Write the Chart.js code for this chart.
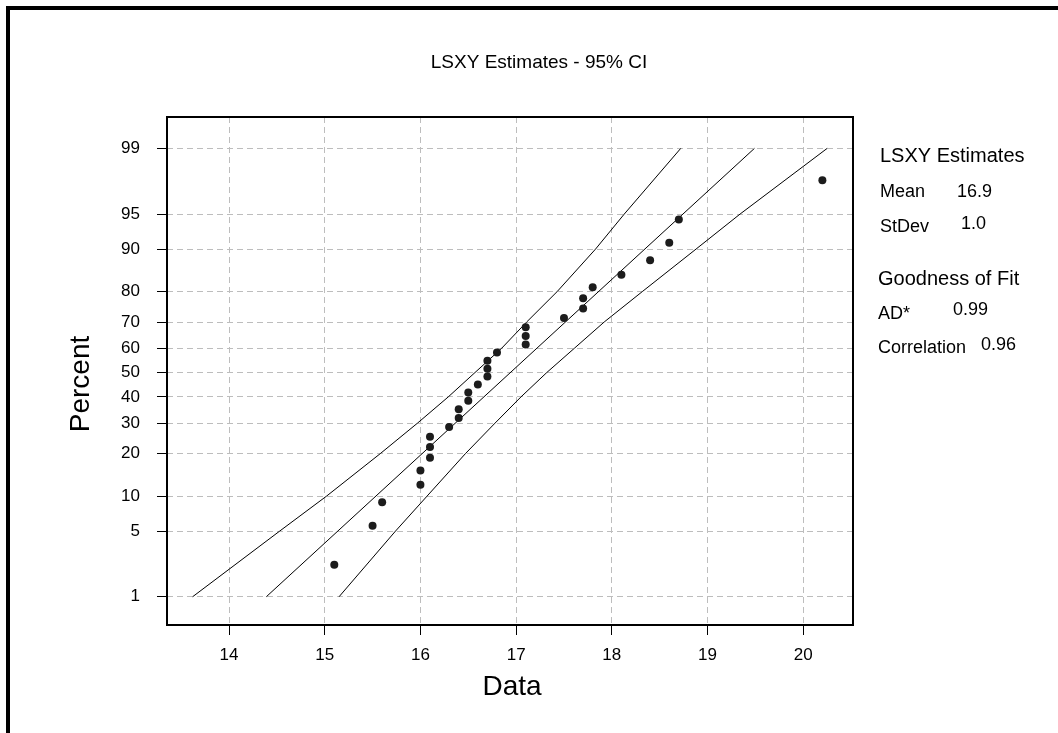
<!DOCTYPE html>
<html>
<head>
<meta charset="utf-8">
<script src="https://cdn.jsdelivr.net/npm/chart.js@4.4.1/dist/chart.umd.min.js"></script>
<style>
  html, body { margin: 0; padding: 0; background: #fff; }
  canvas { display: block; }
</style>
</head>
<body>
<canvas id="plot" width="1058" height="733"></canvas>
<script>
// Observed sample (sorted) and plotting positions in percent
const dataValues = [15.1, 15.5, 15.6, 16.0, 16.0, 16.1, 16.1, 16.1, 16.3, 16.4,
                    16.4, 16.5, 16.5, 16.6, 16.7, 16.7, 16.7, 16.8, 17.1, 17.1,
                    17.1, 17.5, 17.7, 17.7, 17.8, 18.1, 18.4, 18.6, 18.7, 20.2];
const percentRanks = [2.3, 5.6, 8.9, 12.2, 15.5, 18.8, 22.0, 25.3, 28.6, 31.9,
                      35.2, 38.5, 41.8, 45.1, 48.4, 51.6, 54.9, 58.2, 61.5, 64.8,
                      68.1, 71.4, 74.7, 78.0, 81.2, 84.5, 87.8, 91.1, 94.4, 97.7];

// Fitted LSXY line (end points)
const fitPercents = [1, 99];
const fitValues = [14.39, 19.49];

// 95% confidence band
const bandPercents = [1, 5, 10, 20, 30, 40, 50, 60, 70, 80, 90, 95, 99];
const bandLower = [13.62, 14.53, 15.02, 15.58, 15.97, 16.29, 16.57, 16.85, 17.11, 17.43, 17.83, 18.13, 18.72];
const bandUpper = [15.15, 15.74, 16.07, 16.47, 16.78, 17.05, 17.32, 17.61, 17.92, 18.32, 18.88, 19.34, 20.25];

// Axis ticks
const percentTicks = [1, 5, 10, 20, 30, 40, 50, 60, 70, 80, 90, 95, 99];
const dataTicks = [14, 15, 16, 17, 18, 19, 20];

// Side table
const estimateRows = [['Mean', '16.9'], ['StDev', '1.0']];
const fitRows = [['AD*', '0.99'], ['Correlation', '0.96']];

// Inverse standard normal CDF (Acklam's rational approximation)
function probit(p) {
  const a = [-3.969683028665376e+01, 2.209460984245205e+02, -2.759285104469687e+02, 1.383577518672690e+02, -3.066479806614716e+01, 2.506628277459239e+00];
  const b = [-5.447609879822406e+01, 1.615858368580409e+02, -1.556989798598866e+02, 6.680131188771972e+01, -1.328068155288572e+01];
  const c = [-7.784894002430293e-03, -3.223964580411365e-01, -2.400758277161838e+00, -2.549671010115832e+00, 4.374664141464968e+00, 2.938163982698783e+00];
  const d = [7.784695709041462e-03, 3.224671290700398e-01, 2.445134137142996e+00, 3.754408661907416e+00];
  const pl = 0.02425, ph = 1 - pl;
  let q, r;
  if (p < pl) {
    q = Math.sqrt(-2 * Math.log(p));
    return (((((c[0]*q+c[1])*q+c[2])*q+c[3])*q+c[4])*q+c[5]) / ((((d[0]*q+d[1])*q+d[2])*q+d[3])*q+1);
  }
  if (p <= ph) {
    q = p - 0.5; r = q * q;
    return (((((a[0]*r+a[1])*r+a[2])*r+a[3])*r+a[4])*r+a[5])*q / (((((b[0]*r+b[1])*r+b[2])*r+b[3])*r+b[4])*r+1);
  }
  q = Math.sqrt(-2 * Math.log(1 - p));
  return -(((((c[0]*q+c[1])*q+c[2])*q+c[3])*q+c[4])*q+c[5]) / ((((d[0]*q+d[1])*q+d[2])*q+d[3])*q+1);
}
function normCdf(z) {
  const t = 1 / (1 + 0.2316419 * Math.abs(z));
  const y = 0.3989423 * Math.exp(-z * z / 2) *
    t * (0.3193815 + t * (-0.3565638 + t * (1.781478 + t * (-1.821256 + t * 1.330274))));
  return z > 0 ? 1 - y : y;
}

// Normal-probability (percent) axis
class ProbitScale extends Chart.Scale {
  determineDataLimits() {
    this.min = this.options.min;
    this.max = this.options.max;
  }
  buildTicks() {
    return percentTicks.map(v => ({ value: v }));
  }
  configure() {
    super.configure();
    this._zLo = probit(this.min / 100);
    this._zHi = probit(this.max / 100);
  }
  getLabelForValue(v) { return String(v); }
  getPixelForValue(v) {
    return this.getPixelForDecimal((probit(v / 100) - this._zLo) / (this._zHi - this._zLo));
  }
  getValueForPixel(px) {
    const z = this._zLo + this.getDecimalForPixel(px) * (this._zHi - this._zLo);
    return normCdf(z) * 100;
  }
}
ProbitScale.id = 'probit';
ProbitScale.defaults = {};
Chart.register(ProbitScale);

const FONT = '"Liberation Sans", Arial, Helvetica, sans-serif';

const toPoints = (xs, ps) => xs.map((x, i) => ({ x: x, y: ps[i] }));

const decorations = {
  id: 'decorations',
  beforeDraw(chart) {
    const ctx = chart.ctx;
    ctx.save();
    ctx.fillStyle = '#fff';
    ctx.fillRect(0, 0, chart.width, chart.height);
    ctx.restore();
  },
  afterDraw(chart) {
    const ctx = chart.ctx;
    const area = chart.chartArea;
    ctx.save();
    // outer frame (top and left edges)
    ctx.fillStyle = '#000';
    ctx.fillRect(6, 6, chart.width - 6, 4);
    ctx.fillRect(6, 6, 4, chart.height - 6);

    // plot frame
    ctx.strokeStyle = '#000';
    ctx.lineWidth = 2;
    ctx.strokeRect(area.left, area.top, area.right - area.left, area.bottom - area.top);

    ctx.fillStyle = '#000';
    ctx.textBaseline = 'middle';

    // title
    ctx.textAlign = 'center';
    ctx.font = '19px ' + FONT;
    ctx.fillText('LSXY Estimates - 95% CI', 539, 63);

    // axis titles
    ctx.font = '28px ' + FONT;
    ctx.fillText('Data', 512, 687);
    ctx.save();
    ctx.translate(81, 384);
    ctx.rotate(-Math.PI / 2);
    ctx.fillText('Percent', 0, 0);
    ctx.restore();

    // side table
    ctx.textAlign = 'left';
    ctx.font = '20px ' + FONT;
    ctx.fillText('LSXY Estimates', 880, 156);
    ctx.font = '18px ' + FONT;
    ctx.fillText(estimateRows[0][0], 880, 192);
    ctx.fillText(estimateRows[0][1], 957, 192);
    ctx.fillText(estimateRows[1][0], 880, 227);
    ctx.fillText(estimateRows[1][1], 961, 224);

    ctx.font = '20px ' + FONT;
    ctx.fillText('Goodness of Fit', 878, 279);
    ctx.font = '18px ' + FONT;
    ctx.fillText(fitRows[0][0], 878, 314);
    ctx.fillText(fitRows[0][1], 953, 310);
    ctx.fillText(fitRows[1][0], 878, 348);
    ctx.fillText(fitRows[1][1], 981, 345);
    ctx.restore();
  }
};

const gridStyle = {
  color: '#bdbdbd',
  lineWidth: 1,
  tickLength: 10,
  tickColor: '#000',
  tickWidth: 1,
  tickBorderDash: []
};

new Chart(document.getElementById('plot'), {
  type: 'scatter',
  data: {
    datasets: [
      {
        label: 'Data',
        data: toPoints(dataValues, percentRanks),
        backgroundColor: '#1c1c1c',
        borderWidth: 0,
        pointRadius: 4,
        order: 0
      },
      {
        label: 'Fit',
        data: toPoints(fitValues, fitPercents),
        showLine: true,
        borderColor: '#000',
        borderWidth: 1,
        pointRadius: 0,
        order: 1
      },
      {
        label: 'Lower',
        data: toPoints(bandLower, bandPercents),
        showLine: true,
        borderColor: '#000',
        borderWidth: 1,
        pointRadius: 0,
        order: 1
      },
      {
        label: 'Upper',
        data: toPoints(bandUpper, bandPercents),
        showLine: true,
        borderColor: '#000',
        borderWidth: 1,
        pointRadius: 0,
        order: 1
      }
    ]
  },
  options: {
    responsive: false,
    animation: false,
    events: [],
    layout: { padding: { top: 117, right: 205, left: 0, bottom: 0 } },
    plugins: {
      legend: { display: false },
      tooltip: { enabled: false },
      title: { display: false }
    },
    scales: {
      x: {
        type: 'linear',
        min: 13.352,
        max: 20.52,
        afterBuildTicks: s => { s.ticks = dataTicks.map(v => ({ value: v })); },
        afterFit: s => { s.height = 108; },
        grid: gridStyle,
        border: { display: false, dash: [6, 4] },
        ticks: {
          color: '#000',
          padding: 10,
          maxRotation: 0,
          font: { family: FONT, size: 17 },
          callback: v => String(v)
        }
      },
      y: {
        type: 'probit',
        position: 'left',
        min: 0.44,
        max: 99.6,
        afterFit: s => { s.width = 167; },
        grid: gridStyle,
        border: { display: false, dash: [6, 4] },
        ticks: {
          color: '#000',
          padding: 17,
          font: { family: FONT, size: 17 },
          callback: v => String(v)
        }
      }
    }
  },
  plugins: [decorations]
});
</script>
</body>
</html>
